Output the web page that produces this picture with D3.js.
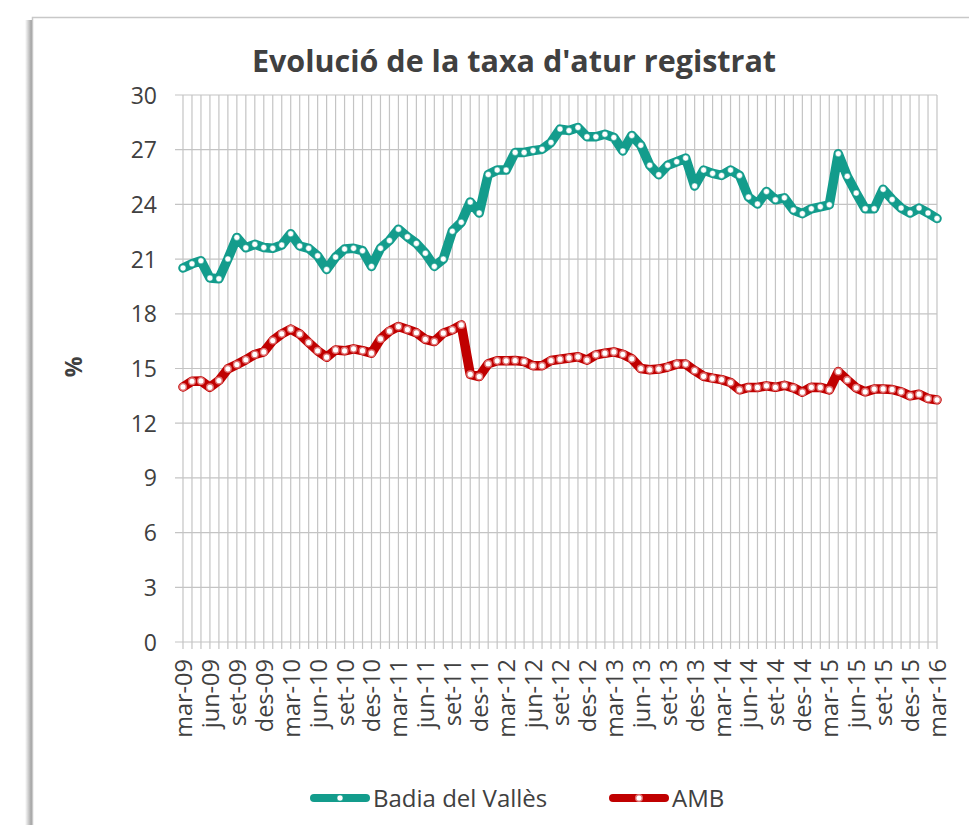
<!DOCTYPE html>
<html><head><meta charset="utf-8">
<script src="https://cdn.jsdelivr.net/npm/d3@7/dist/d3.min.js"></script>
<style>body{margin:0;background:#fff}svg{display:block}</style>
</head><body>
<svg id="c" width="969" height="825"></svg>
<script>
const monthNames = ["gen","feb","mar","abr","mai","jun","jul","ago","set","oct","nov","des"];
const startYear = 2009, startMonth = 2, nMonths = 85;
const categories = d3.range(nMonths).map(i => {
  const m = (startMonth + i) % 12, y = startYear + Math.floor((startMonth + i) / 12);
  return monthNames[m] + "-" + String(y).slice(2);
});
const tickLabels = ["mar-09","jun-09","set-09","des-09","mar-10","jun-10","set-10","des-10","mar-11","jun-11","set-11","des-11","mar-12","jun-12","set-12","des-12","mar-13","jun-13","set-13","des-13","mar-14","jun-14","set-14","des-14","mar-15","jun-15","set-15","des-15","mar-16"];
const yTicks = [0,3,6,9,12,15,18,21,24,27,30];
const badia = [20.51,20.74,20.91,19.96,19.92,21.01,22.19,21.62,21.81,21.64,21.59,21.77,22.39,21.72,21.59,21.18,20.43,21.11,21.55,21.59,21.46,20.6,21.59,22.02,22.64,22.22,21.86,21.32,20.6,21.0,22.53,23.02,24.13,23.53,25.64,25.88,25.88,26.85,26.85,26.95,27.02,27.4,28.13,28.05,28.22,27.71,27.71,27.85,27.67,26.93,27.78,27.24,26.15,25.63,26.15,26.34,26.54,25.01,25.88,25.7,25.59,25.88,25.59,24.4,24.02,24.71,24.25,24.36,23.69,23.49,23.76,23.87,23.98,26.78,25.54,24.62,23.76,23.76,24.83,24.27,23.8,23.53,23.8,23.53,23.23];
const amb = [13.99,14.3,14.32,13.97,14.34,14.98,15.22,15.48,15.77,15.91,16.53,16.9,17.16,16.89,16.42,15.97,15.62,16.02,15.97,16.08,15.98,15.84,16.62,17.05,17.3,17.14,16.96,16.6,16.48,16.94,17.12,17.39,14.68,14.56,15.26,15.42,15.42,15.44,15.38,15.15,15.15,15.44,15.51,15.58,15.64,15.46,15.75,15.84,15.91,15.78,15.53,15.0,14.93,14.97,15.08,15.24,15.24,14.89,14.57,14.47,14.39,14.23,13.83,13.96,13.96,14.05,13.97,14.08,13.94,13.7,13.97,13.96,13.83,14.83,14.37,13.94,13.72,13.87,13.88,13.85,13.72,13.5,13.59,13.35,13.28];
const seriesNames = ["Badia del Vallès","AMB"];
const title = "Evolució de la taxa d'atur registrat";
const yTitle = "%";

const colors = ["#139C8C","#C00000"];
const markerStroke = ["#139C8C","#E07070"];
const font = "'Open Sans', sans-serif";
const txt = "#404040";

const svg = d3.select("#c");
// frame with left shadow
const defs = svg.append("defs");
const g1 = defs.append("linearGradient").attr("id","sh").attr("x1","0").attr("x2","1");
g1.append("stop").attr("offset","0").attr("stop-color","#ffffff");
g1.append("stop").attr("offset","1").attr("stop-color","#9a9a9a");
svg.append("rect").attr("x",25).attr("y",20).attr("width",7).attr("height",805).attr("fill","url(#sh)");
svg.append("rect").attr("x",32.5).attr("y",17.5).attr("width",960).attr("height",820)
  .attr("fill","#fff").attr("stroke","#c8c8c8").attr("stroke-width",1.5);

const x = d3.scalePoint().domain(categories).range([183, 937]);
const y = d3.scaleLinear().domain([0,30]).range([642, 95]);

// gridlines
const grid = svg.append("g").attr("stroke","#c4c4c4").attr("stroke-width",1.2);
grid.selectAll("line.v").data(categories).join("line")
  .attr("x1", d => x(d)).attr("x2", d => x(d)).attr("y1", y(30)).attr("y2", y(0) + 7);
grid.selectAll("line.h").data(yTicks).join("line")
  .attr("x1", 175).attr("x2", 937).attr("y1", d => y(d)).attr("y2", d => y(d));

// y axis labels
const yAxis = d3.axisLeft(y).tickValues(yTicks).tickSize(0).tickPadding(0);
const ya = svg.append("g").attr("transform","translate(157,0)").call(yAxis);
ya.select(".domain").remove();
ya.selectAll("text").attr("font-family",font).attr("font-size",23).attr("fill",txt).attr("dy","0.35em");

// x axis labels
const xAxis = d3.axisBottom(x).tickValues(tickLabels).tickSize(0).tickPadding(0);
const xa = svg.append("g").attr("transform",`translate(0,${y(0)})`).call(xAxis);
xa.select(".domain").remove();
xa.selectAll("text").attr("font-family",font).attr("font-size",23.5).attr("fill",txt)
  .attr("transform","rotate(-90)").attr("text-anchor","end").attr("x",-17).attr("y",0).attr("dy","0.36em");

// lines
const data = [badia, amb];
const line = d3.line().x((d,i) => x(categories[i])).y(d => y(d));
data.forEach((s, k) => {
  svg.append("path").datum(s).attr("d", line).attr("fill","none")
    .attr("stroke", colors[k]).attr("stroke-width", 9.5).attr("stroke-linejoin","round").attr("stroke-linecap","round");
});
data.forEach((s, k) => {
  svg.append("g").selectAll("circle").data(s).join("circle")
    .attr("cx",(d,i) => x(categories[i])).attr("cy", d => y(d))
    .attr("r", k === 0 ? 3 : 3.3).attr("fill","#fff")
    .attr("stroke", markerStroke[k]).attr("stroke-width", k === 0 ? 0.5 : 1.4);
});

// title
svg.append("text").attr("x",514).attr("y",72).attr("text-anchor","middle")
  .attr("font-family",font).attr("font-weight","bold").attr("font-size",30.5).attr("fill",txt).text(title);
// y title
svg.append("text").attr("transform","translate(82,367) rotate(-90)").attr("text-anchor","middle")
  .attr("font-family",font).attr("font-weight","bold").attr("font-size",23).attr("fill",txt).text(yTitle);

// legend
const legX = [310, 609];
seriesNames.forEach((n, k) => {
  const g = svg.append("g");
  g.append("line").attr("x1",legX[k]+4).attr("x2",legX[k]+56).attr("y1",798).attr("y2",798)
    .attr("stroke",colors[k]).attr("stroke-width",8).attr("stroke-linecap","round");
  g.append("circle").attr("cx",legX[k]+30).attr("cy",798).attr("r", k===0?3:3.3).attr("fill","#fff")
    .attr("stroke",markerStroke[k]).attr("stroke-width", k===0?0.5:1.4);
  g.append("text").attr("x",legX[k]+63).attr("y",807).attr("font-family",font).attr("font-size",24)
    .attr("fill",txt).text(n);
});
</script>
</body></html>
